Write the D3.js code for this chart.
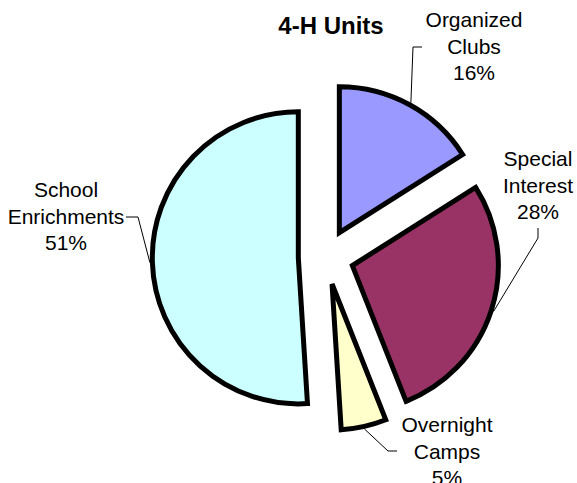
<!DOCTYPE html>
<html>
<head>
<meta charset="utf-8">
<script src="https://cdn.jsdelivr.net/npm/d3@7"></script>
<style>
body { margin: 0; background: #fff; }
text { font-family: "Liberation Sans", Arial, sans-serif; fill: #000; }
</style>
</head>
<body>
<div id="chart"></div>
<script>
// 4-H units exploded pie

var categories = ['Organized Clubs', 'Special Interest', 'Overnight Camps', 'School Enrichments'];
var values = [16, 28, 5, 51];
var labelLines = [['Organized', 'Clubs', '16%'], ['Special', 'Interest', '28%'], ['Overnight', 'Camps', '5%'], ['School', 'Enrichments', '51%']];
var colors = ['#9999ff', '#993366', '#ffffcc', '#ccffff'];

var W = 577, H = 483;
var cx = 326, cy = 257, radius = 146, explode = 27.7;

// label placement: text centre x, first baseline y, elbow and tick end of leader
var labelPos = [
	{x: 474, y: 27, elbow: [413, 47], tick: [422, 47]},
	{x: 538, y: 166, elbow: [538, 238], tick: [538, 228]},
	{x: 447, y: 432, elbow: [388, 451], tick: [397, 451]},
	{x: 66, y: 197, elbow: [138, 217], tick: [126, 217]}
];

var svg = d3.select('#chart').append('svg')
	.attr('width', W).attr('height', H);

svg.append('text')
	.attr('x', 331).attr('y', 34)
	.attr('text-anchor', 'middle')
	.attr('font-size', 24).attr('font-weight', 'bold')
	.text('4-H Units');

var pie = d3.pie().sort(null).value(function (d) {return d;});
var arcs = pie(values);
var arc = d3.arc().innerRadius(0).outerRadius(radius);

function midAngle(d) {return (d.startAngle + d.endAngle) / 2;}

var g = svg.append('g').attr('transform', 'translate(' + cx + ',' + cy + ')');

g.selectAll('path.slice').data(arcs).enter().append('path')
	.attr('class', 'slice')
	.attr('transform', function (d) {
		var a = midAngle(d);
		return 'translate(' + (explode * Math.sin(a)) + ',' + (-explode * Math.cos(a)) + ')';
	})
	.attr('d', arc)
	.attr('fill', function (d, i) {return colors[i];})
	.attr('stroke', '#000')
	.attr('stroke-width', 5)
	.attr('stroke-linejoin', 'miter');

// leader lines
arcs.forEach(function (d, i) {
	var a = midAngle(d);
	var r = explode + radius + 2.5;
	var p0 = [cx + r * Math.sin(a), cy - r * Math.cos(a)];
	var lp = labelPos[i];
	svg.append('polyline')
		.attr('points', [p0, lp.elbow, lp.tick].map(function (p) {return p.join(',');}).join(' '))
		.attr('fill', 'none')
		.attr('stroke', '#000')
		.attr('stroke-width', 1);

	var t = svg.append('text')
		.attr('text-anchor', 'middle')
		.attr('font-size', 21);
	labelLines[i].forEach(function (s, j) {
		t.append('tspan').attr('x', lp.x).attr('y', lp.y + j * 26.5).text(s);
	});
});
</script>
</body>
</html>
